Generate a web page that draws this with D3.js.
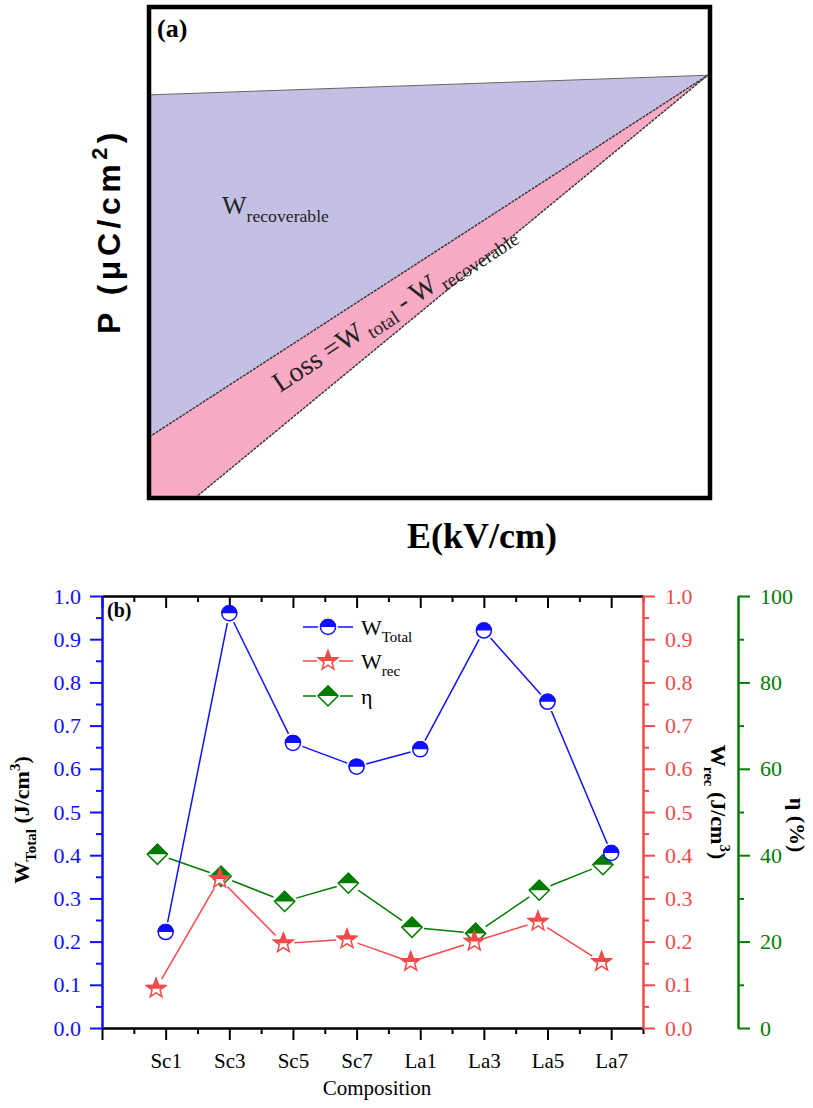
<!DOCTYPE html>
<html>
<head>
<meta charset="utf-8">
<script src="https://cdn.jsdelivr.net/npm/d3@7"></script>
<style>
  body { margin: 0; background: #fff; }
</style>
</head>
<body>
<script>
// ---- panel (a): schematic P-E loop ----
var dischargeE = [0, 0.996];
var dischargeP = [0.821, 0.861];
var chargeE = [0, 0.996];
var chargeP = [0.124, 0.861];
var lossE = [0.082, 0.996];
var lossP = [0, 0.861];

// ---- panel (b) ----
var categories = ["Sc1", "Sc3", "Sc5", "Sc7", "La1", "La3", "La5", "La7"];
var wTotal = [0.222, 0.96, 0.66, 0.605, 0.645, 0.92, 0.755, 0.405];
var wRec = [0.091, 0.345, 0.196, 0.205, 0.153, 0.2, 0.246, 0.153];
var eta = [40.2, 35.1, 29.3, 33.5, 23.3, 21.9, 31.9, 37.8];
var leftTicks = [0, 0.1, 0.2, 0.3, 0.4, 0.5, 0.6, 0.7, 0.8, 0.9, 1.0];
var etaTicks = [0, 20, 40, 60, 80, 100];

var BLUE = "#1010ff", RED = "#f24a4a", GREEN = "#007d00";
var SANS = "'Liberation Sans', Arial, sans-serif";
var SERIF = "'Liberation Serif', 'Times New Roman', serif";

var svg = d3.select("body").append("svg")
  .attr("width", 813).attr("height", 1108)
  .attr("font-family", SERIF);

// helper for sub/superscripts
function rich(sel, parts, size, subShift) {
  var cur = 0, sub = subShift || 0.3;
  parts.forEach(function (p) {
    var shift = p.sub ? size * sub : p.sup ? -size * 0.42 : 0;
    sel.append("tspan")
      .attr("dy", shift - cur)
      .attr("font-size", (p.sub || p.sup ? size * 0.68 : size) + "px")
      .text(p.t);
    cur = shift;
  });
  return sel;
}

// ================= panel (a) =================
var ax = d3.scaleLinear().domain([0, 1]).range([149, 710]);
var ay = d3.scaleLinear().domain([0, 1]).range([498, 7]);

var upper = dischargeE.map(function (e, i) { return [ax(e), ay(dischargeP[i])]; });
var mid = chargeE.map(function (e, i) { return [ax(e), ay(chargeP[i])]; });
var low = lossE.map(function (e, i) { return [ax(e), ay(lossP[i])]; });

var line = d3.line();

// recoverable area
svg.append("path")
  .attr("d", line(upper.concat(mid.slice().reverse())) + "Z")
  .attr("fill", "#c4c0e4");
// loss area
svg.append("path")
  .attr("d", line(mid.concat(low.slice().reverse()).concat([[ax(0), ay(0)]])) + "Z")
  .attr("fill", "#f9aac4");

svg.append("path").attr("d", line(upper)).attr("fill", "none")
  .attr("stroke", "#666").attr("stroke-width", 1);
[mid, low].forEach(function (c) {
  svg.append("path").attr("d", line(c)).attr("fill", "none")
    .attr("stroke", "#333").attr("stroke-width", 1.4)
    .attr("stroke-dasharray", "3 1");
});

svg.append("rect")
  .attr("x", ax(0)).attr("y", ay(1))
  .attr("width", ax(1) - ax(0)).attr("height", ay(0) - ay(1))
  .attr("fill", "none").attr("stroke", "#000").attr("stroke-width", 4.5);

svg.append("text").attr("x", 157).attr("y", 37)
  .attr("font-size", "26px").attr("font-weight", "bold").text("(a)");

rich(svg.append("text").attr("x", 222).attr("y", 214).attr("fill", "#222"),
  [{ t: "W" }, { t: "recoverable", sub: true }], 26);

rich(svg.append("text").attr("transform", "translate(280,393) rotate(-33.2)").attr("fill", "#222"),
  [{ t: "Loss =W" }, { t: " total", sub: true }, { t: " - W" }, { t: " recoverable", sub: true }], 28, 0.2);

rich(svg.append("text")
  .attr("transform", "translate(120,231) rotate(-90)")
  .attr("text-anchor", "middle")
  .attr("letter-spacing", "4.5px")
  .attr("font-family", SANS).attr("font-weight", "bold"),
  [{ t: "P (μC/cm" }, { t: "2", sup: true }, { t: ")" }], 32);

svg.append("text").attr("x", 482).attr("y", 548).attr("text-anchor", "middle")
  .attr("font-size", "36px").attr("font-weight", "bold").text("E(kV/cm)");

// ================= panel (b) =================
var x = d3.scaleLinear().domain([0, 8.5]).range([102, 643]);
var yL = d3.scaleLinear().domain([0, 1]).range([1028, 596]);
var yR = d3.scaleLinear().domain([0, 1]).range([1028, 596]);
var yG = d3.scaleLinear().domain([0, 100]).range([1028, 596]);
var xMajor = d3.range(0, 9);
var xMinor = d3.range(0.5, 9, 1);

function styleAxis(g, color, size) {
  g.attr("font-family", SERIF).attr("font-size", size);
  g.selectAll("path,line").attr("stroke", color).attr("stroke-width", 2);
  g.selectAll("text").attr("fill", color);
}

// top frame (ticks inward)
svg.append("g").attr("transform", "translate(0,596)")
  .call(d3.axisTop(x).tickValues(xMajor).tickSize(-12).tickSizeOuter(0).tickFormat(""))
  .call(styleAxis, "#000", 20);
svg.append("g").attr("transform", "translate(0,596)")
  .call(d3.axisTop(x).tickValues(xMinor).tickSize(-6).tickSizeOuter(0).tickFormat(""))
  .call(styleAxis, "#000", 20);

// bottom axis
svg.append("g").attr("transform", "translate(0,1028)")
  .call(d3.axisBottom(x).tickValues(xMajor).tickSize(12).tickSizeOuter(0).tickPadding(13)
    .tickFormat(function (d) { return d >= 1 ? categories[d - 1] : ""; }))
  .call(styleAxis, "#000", 21);
svg.append("g").attr("transform", "translate(0,1028)")
  .call(d3.axisBottom(x).tickValues(xMinor).tickSize(6).tickSizeOuter(0).tickFormat(""))
  .call(styleAxis, "#000", 20);

// left axis (W total)
var minor01 = d3.range(0.05, 1, 0.1);
svg.append("g").attr("transform", "translate(102,0)")
  .call(d3.axisLeft(yL).tickValues(leftTicks).tickSize(12).tickSizeOuter(0).tickPadding(9)
    .tickFormat(d3.format(".1f")))
  .call(styleAxis, BLUE, 22);
svg.append("g").attr("transform", "translate(102,0)")
  .call(d3.axisLeft(yL).tickValues(minor01).tickSize(6).tickSizeOuter(0).tickFormat(""))
  .call(styleAxis, BLUE, 22);

// right axis (W rec)
svg.append("g").attr("transform", "translate(643,0)")
  .call(d3.axisRight(yR).tickValues(leftTicks).tickSize(12).tickSizeOuter(0).tickPadding(10)
    .tickFormat(d3.format(".1f")))
  .call(styleAxis, RED, 22);
svg.append("g").attr("transform", "translate(643,0)")
  .call(d3.axisRight(yR).tickValues(minor01).tickSize(6).tickSizeOuter(0).tickFormat(""))
  .call(styleAxis, RED, 22);

// far right axis (eta)
svg.append("g").attr("transform", "translate(738,0)")
  .call(d3.axisRight(yG).tickValues(etaTicks).tickSize(12).tickSizeOuter(0).tickPadding(10))
  .call(styleAxis, GREEN, 22);
svg.append("g").attr("transform", "translate(738,0)")
  .call(d3.axisRight(yG).tickValues(d3.range(10, 100, 20)).tickSize(6).tickSizeOuter(0).tickFormat(""))
  .call(styleAxis, GREEN, 22);

// axis titles
rich(svg.append("text").attr("transform", "translate(29,820) rotate(-90)")
  .attr("text-anchor", "middle").attr("font-weight", "bold"),
  [{ t: "W" }, { t: "Total", sub: true }, { t: " (J/cm" }, { t: "3", sup: true }, { t: ")" }], 22);
rich(svg.append("text").attr("transform", "translate(711,802) rotate(90)")
  .attr("text-anchor", "middle").attr("font-weight", "bold"),
  [{ t: "W" }, { t: "rec", sub: true }, { t: " (J/cm" }, { t: "3", sup: true }, { t: ")" }], 22);
svg.append("text").attr("transform", "translate(790,825) rotate(90)")
  .attr("text-anchor", "middle").attr("font-weight", "bold").attr("font-size", "22px")
  .text("η (%)");
svg.append("text").attr("x", 377).attr("y", 1095).attr("text-anchor", "middle")
  .attr("font-size", "21px").text("Composition");
svg.append("text").attr("x", 107).attr("y", 617)
  .attr("font-size", "20px").attr("font-weight", "bold").text("(b)");

// markers
var defs = svg.append("defs");
defs.append("clipPath").attr("id", "tophalf")
  .append("rect").attr("x", -20).attr("y", -20).attr("width", 40).attr("height", 20);

function starPath(R) {
  var r = R * 0.42, pts = [];
  for (var k = 0; k < 10; k++) {
    var a = -Math.PI / 2 + k * Math.PI / 5, rr = k % 2 ? r : R;
    pts.push([rr * Math.cos(a), rr * Math.sin(a)]);
  }
  return d3.line()(pts) + "Z";
}
function diamondPath(R) { return "M0," + (-R) + "L" + R + ",0L0," + R + "L" + (-R) + ",0Z"; }

var shapes = {
  circle: { d: d3.arc()({ innerRadius: 0, outerRadius: 7.5, startAngle: 0, endAngle: 2 * Math.PI }), gap: 10 },
  star: { d: starPath(10), gap: 11 },
  diamond: { d: diamondPath(10), gap: 12 }
};

function marker(g, cx, cy, shape, color) {
  var m = g.append("g").attr("transform", "translate(" + cx + "," + cy + ")");
  m.append("path").attr("d", shapes[shape].d).attr("fill", "#fff")
    .attr("stroke", color).attr("stroke-width", 1.5);
  m.append("path").attr("d", shapes[shape].d).attr("fill", color)
    .attr("stroke", color).attr("stroke-width", 1.5).attr("clip-path", "url(#tophalf)");
}

function gapLine(g, pts, gap, color) {
  for (var i = 0; i < pts.length - 1; i++) {
    var a = pts[i], b = pts[i + 1];
    var dx = b[0] - a[0], dy = b[1] - a[1], L = Math.hypot(dx, dy);
    if (L <= 2 * gap) continue;
    var ux = dx / L, uy = dy / L;
    g.append("line")
      .attr("x1", a[0] + ux * gap).attr("y1", a[1] + uy * gap)
      .attr("x2", b[0] - ux * gap).attr("y2", b[1] - uy * gap)
      .attr("stroke", color).attr("stroke-width", 1.5);
  }
}

var series = [
  { vals: eta, y: yG, shift: -0.13, shape: "diamond", color: GREEN },
  { vals: wRec, y: yR, shift: -0.15, shape: "star", color: RED },
  { vals: wTotal, y: yL, shift: 0, shape: "circle", color: BLUE }
];
var plot = svg.append("g");
series.forEach(function (s) {
  var pts = s.vals.map(function (v, i) { return [x(i + 1 + s.shift), s.y(v)]; });
  gapLine(plot, pts, shapes[s.shape].gap, s.color);
  pts.forEach(function (p) { marker(plot, p[0], p[1], s.shape, s.color); });
});

// legend
var legendRows = [
  { parts: [{ t: "W" }, { t: "Total", sub: true }], shape: "circle", color: BLUE, y: 627 },
  { parts: [{ t: "W" }, { t: "rec", sub: true }], shape: "star", color: RED, y: 661 },
  { parts: [{ t: "η" }], shape: "diamond", color: GREEN, y: 696 }
];
legendRows.forEach(function (r) {
  var g = svg.append("g");
  gapLine(g, [[303 - shapes[r.shape].gap, r.y], [328, r.y], [353 + shapes[r.shape].gap, r.y]],
    shapes[r.shape].gap, r.color);
  marker(g, 328, r.y, r.shape, r.color);
  rich(g.append("text").attr("x", 361).attr("y", r.y + 8), r.parts, 22);
});
</script>
</body>
</html>
